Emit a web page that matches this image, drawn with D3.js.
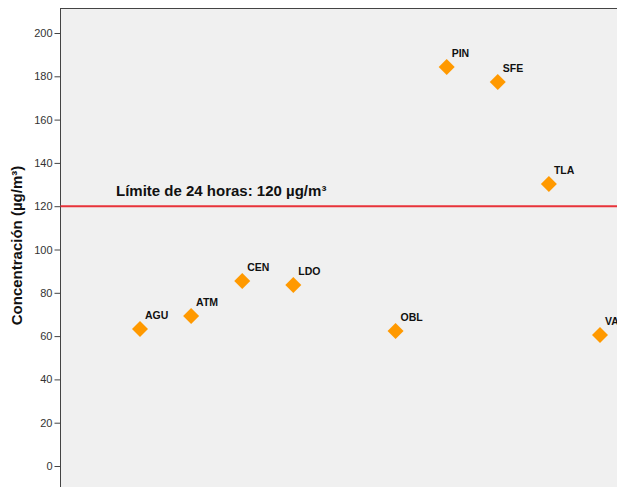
<!DOCTYPE html>
<html><head><meta charset="utf-8">
<script src="https://cdn.jsdelivr.net/npm/d3@7"></script>
<style>body{margin:0;background:#fff}svg{display:block}</style>
</head><body>
<svg id="c" width="617" height="487"></svg>
<script>
const stations = ["AGU","ATM","CEN","LDO","MER","OBL","PIN","SFE","TLA","VAL"];
const labels = ["AGU","ATM","CEN","LDO","","OBL","PIN","SFE","TLA","VA"];
const values = [63.3, 69.3, 85.5, 83.6, null, 62.4, 184.3, 177.4, 130.3, 60.5];
const yTicks = [0,20,40,60,80,100,120,140,160,180,200];
const limitValue = 120;
const limitLabel = "Límite de 24 horas: 120 µg/m³";
const yTitle = "Concentración (µg/m³)";

const svg = d3.select("#c");
const padL = 60.5, padT = 8;
const y = d3.scaleLinear().domain([0,200]).range([466,33]);
const x = d3.scalePoint().domain(stations).range([140,600]);
const font = "Arial, 'Liberation Sans', sans-serif";

svg.append("rect").attr("x",padL).attr("y",padT).attr("width",700).attr("height",600).attr("fill","#f0f0f0");
svg.append("line").attr("x1",padL).attr("x2",700).attr("y1",padT+0.5).attr("y2",padT+0.5).attr("stroke","#444").attr("stroke-width",1);

const ax = svg.append("g").attr("transform",`translate(${padL},0)`)
  .call(d3.axisLeft(y).tickValues(yTicks).tickSize(6).tickPadding(2));
ax.select(".domain").attr("stroke","#444").attr("d","M0,"+padT+"V600");
ax.selectAll(".tick line").attr("stroke","#444");
ax.selectAll(".tick text").attr("fill","#333").style("font-family",font).style("font-size","11px");

svg.append("text").attr("transform","translate(22,245.5) rotate(-90)").attr("text-anchor","middle")
  .style("font-family",font).style("font-size","15px").style("font-weight","bold")
  .attr("fill","#111").text(yTitle);

svg.append("line").attr("x1",padL).attr("x2",700).attr("y1",y(limitValue)).attr("y2",y(limitValue))
  .attr("stroke","#e8333a").attr("stroke-width",2);
svg.append("text").attr("x",116).attr("y",y(limitValue)-10)
  .style("font-family",font).style("font-size","15px").style("font-weight","bold")
  .attr("fill","#111").text(limitLabel);

const data = stations.map((s,i)=>({s, lab:labels[i], v:values[i]})).filter(d=>d.v!==null);
const g = svg.append("g");
g.selectAll("path").data(data).join("path")
  .attr("d", d3.symbol().type(d3.symbolSquare).size(128))
  .attr("transform", d=>`translate(${x(d.s)},${y(d.v)}) rotate(45)`)
  .attr("fill","#ff9900");
g.selectAll("text").data(data).join("text")
  .attr("x", d=>x(d.s)+5).attr("y", d=>y(d.v)-10)
  .style("font-family",font).style("font-size","10.5px").style("font-weight","bold")
  .attr("fill","#111").text(d=>d.lab);
</script>
</body></html>
